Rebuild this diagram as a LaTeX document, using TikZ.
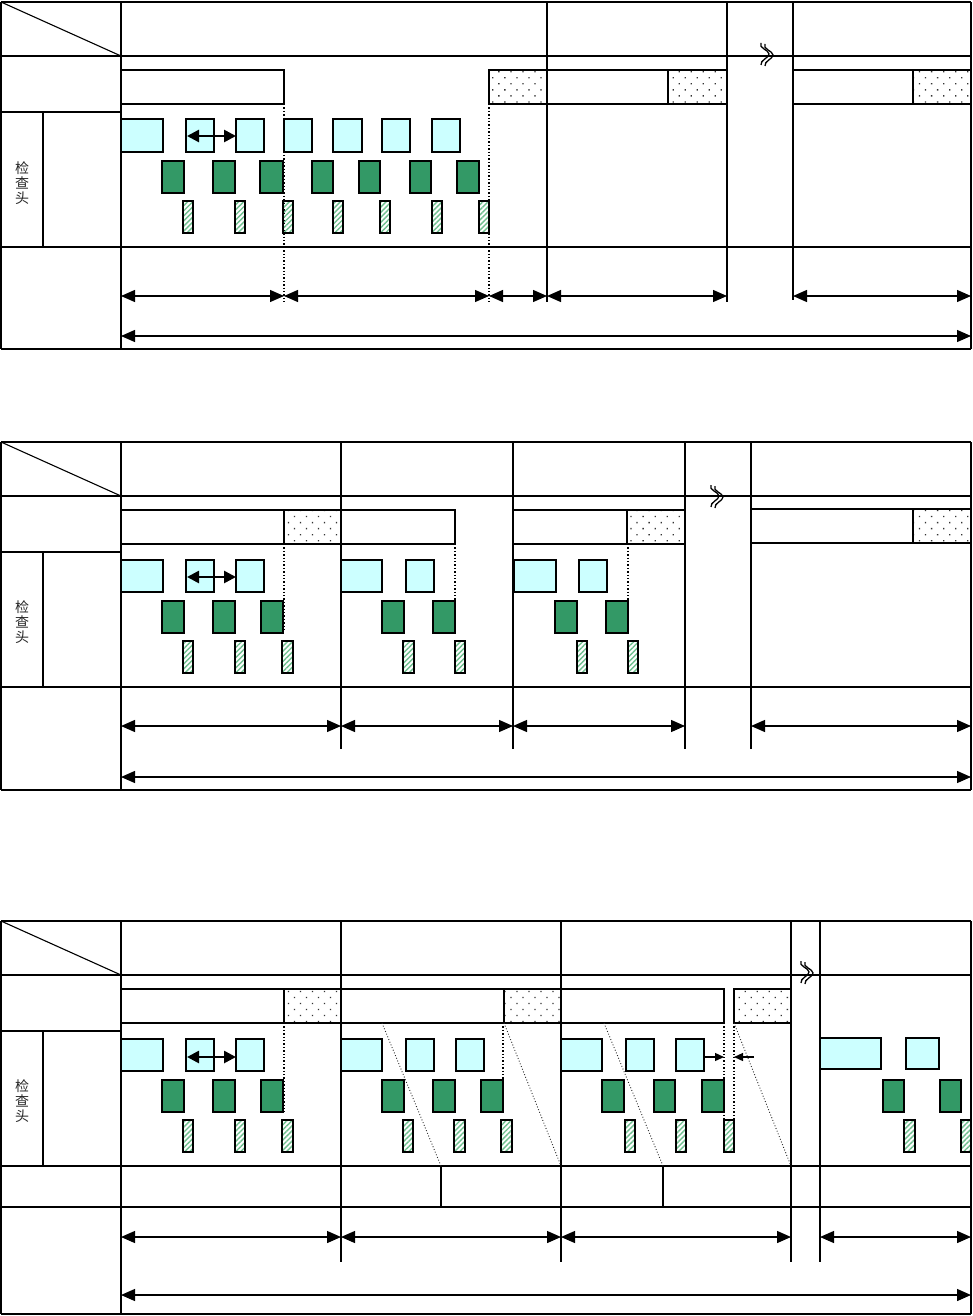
\documentclass[tikz,border=0pt]{standalone}
\usepackage{fontspec}
\newfontfamily\cjk{Noto Sans CJK SC}
\usetikzlibrary{arrows.meta,patterns,patterns.meta}
\definecolor{cyanfill}{HTML}{CCFFFF}
\definecolor{greenfill}{HTML}{339966}
\definecolor{hatchgreen}{HTML}{6FBF8F}
\definecolor{dotgray}{HTML}{333333}
\tikzset{
 thinln/.style={line width=1.1pt},
 medln/.style={line width=1.8pt},
 thkln/.style={line width=2.8pt},
 cybox/.style={fill=cyanfill, draw=black, line width=1.3pt},
 cyboxt/.style={fill=cyanfill, draw=black, line width=2.8pt},
 grbox/.style={fill=greenfill, draw=black, line width=2.3pt},
 hbox/.style={draw=black, line width=2.3pt, pattern={Lines[angle=45,distance=3.6pt,line width=1.4pt]}, pattern color=hatchgreen},
 barw/.style={draw=black, line width=2.6pt, fill=white},
 bard/.style={draw=black, line width=2.6pt, pattern={Dots[angle=45,distance=8.5pt,radius=0.9pt]}, pattern color=dotgray},
 dotv/.style={line width=1.4pt, dotted},
 slant/.style={line width=0.9pt, dotted, black!85},
 dimarrow/.style={line width=1.3pt, {Triangle[length=14pt,width=12pt]}-{Triangle[length=14pt,width=12pt]}},
 boxarrow/.style={line width=2.6pt, {Triangle[length=12pt,width=12pt]}-{Triangle[length=12pt,width=12pt]}},
 smallarrow/.style={line width=1.3pt, -{Triangle[length=9pt,width=8pt]}},
 lbl/.style={font=\cjk\fontsize{14}{15}\selectfont, align=center, text=black!85, inner sep=0pt},
}
\newcommand\leftpart[5]{% top, diag line, thick row line, row end line, bottom
 \draw[thinln] (1,#1) -- (121,#2);
 \draw[thkln] (1,#3) -- (121,#3);
 \draw[medln] (43,#3) -- (43,#4);
 \draw[thinln] (121,#1) -- (121,#5);
}
\newcommand\brkmark[2]{%
 \begin{scope}[shift={(#1,#2)}]
  \draw[line width=1.3pt] (-5,-11) .. controls (-8,-6) and (3,-4) .. (3,0) .. controls (3,4) and (-6,6) .. (-5,11);
  \draw[line width=1.3pt] (-1,-10) .. controls (-4,-5) and (7,-3) .. (7,1) .. controls (7,5) and (-2,7) .. (-1,12);
 \end{scope}}
\begin{document}
\begin{tikzpicture}[x=1pt,y=-1pt]
\useasboundingbox (0,0) rectangle (973,1316);
\fill[white] (0,0) rectangle (973,1316);

% ================= SECTION 1 =================
\draw[thinln] (1,56) -- (971,56);
\draw[thkln] (1,247) -- (971,247);
\draw[medln] (1,2) -- (971,2);
\draw[medln] (1,349) -- (971,349);
\draw[medln] (1,2) -- (1,349);
\draw[medln] (971,2) -- (971,349);
\leftpart{2}{56}{112}{247}{349}
\draw[thinln] (547,2) -- (547,302);
\draw[thinln] (727,2) -- (727,302);
\draw[medln] (793,2) -- (793,300);
% bars
\draw[barw] (121,70) rectangle (284,104);
\draw[bard] (489,70) rectangle (547,104);
\draw[barw] (547,70) rectangle (668,104);
\draw[bard] (668,70) rectangle (727,104);
\draw[barw] (793,70) rectangle (913,104);
\draw[bard] (913,70) rectangle (971,104);
\draw[dotv] (284,104) -- (284,302);
\draw[dotv] (489,104) -- (489,302);
% boxes
\draw[cyboxt] (121,119) rectangle (163,152);
\draw[cybox] (186,119) rectangle (214,152);
\draw[cyboxt] (236,119) rectangle (264,152);
\draw[cyboxt] (284,119) rectangle (312,152);
\draw[cyboxt] (333,119) rectangle (362,152);
\draw[cybox] (382,119) rectangle (410,152);
\draw[cybox] (432,119) rectangle (460,152);
\foreach \a/\b in {162/184,213/235,260/283,312/333,359/380,410/431,457/479}
  \draw[grbox] (\a,161) rectangle (\b,193);
\foreach \a/\b in {183/193,235/245,283/293,333/343,380/390,432/442,479/489}
  \draw[hbox] (\a,201) rectangle (\b,233);
\draw[boxarrow] (187,136) -- (236,136);
\node[lbl] (lbl1) at (22,183) {检\\查\\头};
\brkmark{766}{54}
% dims
\draw[dimarrow] (121,296) -- (284,296);
\draw[dimarrow] (284,296) -- (489,296);
\draw[dimarrow] (489,296) -- (547,296);
\draw[dimarrow] (547,296) -- (727,296);
\draw[dimarrow] (793,296) -- (971,296);
\draw[dimarrow] (121,336) -- (971,336);

% ================= SECTION 2 =================
\draw[thinln] (1,496) -- (971,496);
\draw[thkln] (1,687) -- (971,687);
\draw[thinln] (1,442) -- (971,442);
\draw[medln] (1,790) -- (971,790);
\draw[medln] (1,442) -- (1,790);
\draw[medln] (971,442) -- (971,790);
\leftpart{442}{496}{552}{687}{790}
\draw[thinln] (341,442) -- (341,749);
\draw[medln] (513,442) -- (513,749);
\draw[medln] (685,442) -- (685,749);
\draw[thinln] (751,442) -- (751,749);
% bars
\draw[barw] (121,510) rectangle (284,544);
\draw[bard] (284,510) rectangle (341,544);
\draw[barw] (341,510) rectangle (455,544);
\draw[barw] (513,510) rectangle (627,544);
\draw[bard] (627,510) rectangle (685,544);
\draw[barw] (751,509) rectangle (913,543);
\draw[bard] (913,509) rectangle (971,543);
\draw[dotv] (284,544) -- (284,632);
\draw[dotv] (455,544) -- (455,603);
\draw[dotv] (628,544) -- (628,603);
% boxes
\draw[cyboxt] (121,560) rectangle (163,592);
\draw[cybox] (186,560) rectangle (214,592);
\draw[cyboxt] (236,560) rectangle (264,592);
\draw[cybox] (341,560) rectangle (382,592);
\draw[cybox] (406,560) rectangle (434,592);
\draw[cybox] (514,560) rectangle (556,592);
\draw[cybox] (579,560) rectangle (607,592);
\foreach \a/\b in {162/184,213/235,261/283,382/404,433/455,555/577,606/628}
  \draw[grbox] (\a,601) rectangle (\b,633);
\foreach \a/\b in {183/193,235/245,282/293,403/414,455/465,577/587,628/638}
  \draw[hbox] (\a,641) rectangle (\b,673);
\draw[boxarrow] (187,577) -- (236,577);
\node[lbl] (lbl2) at (22,622) {检\\查\\头};
\brkmark{716}{496}
% dims
\draw[dimarrow] (121,726) -- (341,726);
\draw[dimarrow] (341,726) -- (513,726);
\draw[dimarrow] (513,726) -- (685,726);
\draw[dimarrow] (751,726) -- (971,726);
\draw[dimarrow] (121,777) -- (971,777);

% ================= SECTION 3 =================
\draw[thinln] (1,975) -- (971,975);
\draw[thkln] (1,1166) -- (971,1166);
\draw[thkln] (1,1207) -- (971,1207);
\draw[thkln] (1,921) -- (971,921);
\draw[medln] (1,1314) -- (971,1314);
\draw[medln] (1,921) -- (1,1314);
\draw[thinln] (971,921) -- (971,1314);
\leftpart{921}{975}{1031}{1166}{1314}
\draw[thinln] (341,921) -- (341,1262);
\draw[thinln] (561,921) -- (561,1262);
\draw[thinln] (791,921) -- (791,1262);
\draw[medln] (820,921) -- (820,1262);
\draw[thinln] (441,1166) -- (441,1207);
\draw[thinln] (663,1166) -- (663,1207);
% bars
\draw[barw] (121,989) rectangle (284,1023);
\draw[bard] (284,989) rectangle (341,1023);
\draw[barw] (341,989) rectangle (504,1023);
\draw[bard] (504,989) rectangle (561,1023);
\draw[barw] (561,989) rectangle (724,1023);
\draw[bard] (734,989) rectangle (791,1023);
\draw[dotv] (284,1023) -- (284,1112);
\draw[dotv] (503,1023) -- (503,1112);
\draw[dotv] (724,1023) -- (724,1120);
\draw[dotv] (734,1023) -- (734,1120);
\draw[slant] (382,1023) -- (441,1166);
\draw[slant] (504,1023) -- (561,1166);
\draw[slant] (604,1023) -- (663,1166);
\draw[slant] (734,1023) -- (791,1166);
% boxes
\draw[cyboxt] (121,1039) rectangle (163,1071);
\draw[cybox] (186,1039) rectangle (214,1071);
\draw[cyboxt] (236,1039) rectangle (264,1071);
\draw[cybox] (341,1039) rectangle (382,1071);
\draw[cybox] (406,1039) rectangle (434,1071);
\draw[cyboxt] (456,1039) rectangle (484,1071);
\draw[cybox] (561,1039) rectangle (602,1071);
\draw[cybox] (626,1039) rectangle (654,1071);
\draw[cybox] (676,1039) rectangle (704,1071);
\draw[cybox] (820,1038) rectangle (881,1069);
\draw[cybox] (906,1038) rectangle (939,1069);
\foreach \a/\b in {162/184,213/235,261/283,382/404,433/455,481/503,602/624,654/675,702/724,883/904,940/961}
  \draw[grbox] (\a,1080) rectangle (\b,1112);
\foreach \a/\b in {183/193,235/245,282/293,403/413,454/465,501/512,625/635,676/686,724/734,904/915,961/971}
  \draw[hbox] (\a,1120) rectangle (\b,1152);
\draw[boxarrow] (187,1057) -- (236,1057);
\draw[smallarrow] (704,1057) -- (724,1057);
\draw[smallarrow] (754,1057) -- (734,1057);
\node[lbl] (lbl3) at (22,1101) {检\\查\\头};
\brkmark{806}{972}
% dims
\draw[dimarrow] (121,1237) -- (341,1237);
\draw[dimarrow] (341,1237) -- (561,1237);
\draw[dimarrow] (561,1237) -- (791,1237);
\draw[dimarrow] (820,1237) -- (971,1237);
\draw[dimarrow] (121,1295) -- (971,1295);
\end{tikzpicture}
\end{document}
